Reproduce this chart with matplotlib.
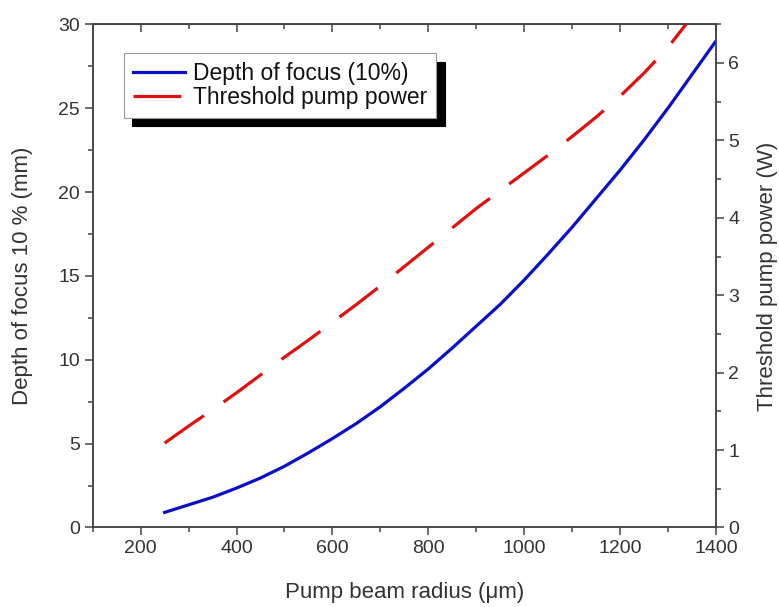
import numpy as np
import matplotlib
matplotlib.use('Agg')
import matplotlib.pyplot as plt
from matplotlib.ticker import MultipleLocator

# values
radius_dof = [250, 300, 350, 400, 450, 500, 550, 600, 650, 700, 750, 800, 850, 900,
              950, 1000, 1050, 1100, 1150, 1200, 1250, 1300, 1350, 1400]
depth_of_focus = [0.9, 1.35, 1.8, 2.35, 2.95, 3.65, 4.45, 5.3, 6.2, 7.2, 8.3, 9.45, 10.7, 12.0,
                  13.3, 14.75, 16.3, 17.9, 19.6, 21.3, 23.1, 25.0, 27.0, 29.0]

radius_thr = [250, 300, 350, 400, 450, 500, 550, 600, 650, 700, 750, 800, 850, 900,
              950, 1000, 1050, 1100, 1150, 1200, 1250, 1300, 1340]
threshold_power = [1.09, 1.31, 1.52, 1.74, 1.97, 2.20, 2.42, 2.65, 2.88, 3.12, 3.37, 3.62, 3.87, 4.12,
                   4.35, 4.58, 4.81, 5.05, 5.30, 5.57, 5.87, 6.20, 6.52]

plt.rcParams['font.family'] = ['Liberation Sans', 'DejaVu Sans']
text_col = '#333333'
spine_col = '#444444'

fig = plt.figure(figsize=(7.79, 6.07), dpi=100)
ax = fig.add_axes([0.119, 0.131, 0.800, 0.829])
ax2 = ax.twinx()

l1, = ax.plot(radius_dof, depth_of_focus, color='#0a10c8', lw=2.3, label='Depth of focus (10%)')
l2, = ax2.plot(radius_thr, threshold_power, color='#e01010', lw=2.3, dashes=(15, 7.5),
               dash_capstyle='butt', label='Threshold pump power')

ax.set_xlim(100, 1400)
ax.set_ylim(0, 30)
ax2.set_ylim(0, 6.5)

ax.set_xticks([200, 400, 600, 800, 1000, 1200, 1400])
ax.xaxis.set_minor_locator(MultipleLocator(100))
ax.yaxis.set_major_locator(MultipleLocator(5))
ax.yaxis.set_minor_locator(MultipleLocator(2.5))
ax2.yaxis.set_major_locator(MultipleLocator(1))
ax2.yaxis.set_minor_locator(MultipleLocator(0.5))

for a in (ax, ax2):
    for s in a.spines.values():
        s.set_color(spine_col)
        s.set_linewidth(1.1)

ax.tick_params(axis='x', which='both', direction='out', top=False, colors=spine_col,
               labelcolor=text_col, labelsize=14, width=1.1, pad=3)
ax.tick_params(axis='y', which='both', direction='out', right=False, colors=spine_col,
               labelcolor=text_col, labelsize=14, width=1.1, pad=3)
ax2.tick_params(axis='y', which='both', direction='out', colors=spine_col,
                labelcolor=text_col, labelsize=14, width=1.1, pad=3)
for a in (ax, ax2):
    a.tick_params(which='major', length=6)
    a.tick_params(which='minor', length=3.6)

# inward ticks on the top edge
top = ax.secondary_xaxis('top')
top.set_xticks([200, 400, 600, 800, 1000, 1200, 1400])
top.xaxis.set_minor_locator(MultipleLocator(100))
top.tick_params(which='both', direction='in', labeltop=False, colors=spine_col, width=1.1)
top.tick_params(which='major', length=6)
top.tick_params(which='minor', length=3.6)
top.spines['top'].set_color(spine_col)

ax.set_xlabel('Pump beam radius (\u03bcm)', fontsize=16, color=text_col)
ax.set_ylabel('Depth of focus 10 % (mm)', fontsize=16, color=text_col)
ax2.set_ylabel('Threshold pump power (W)', fontsize=16, color=text_col)
ax.xaxis.set_label_coords(0.50, -0.129)
ax.yaxis.set_label_coords(-0.113, 0.5)
ax2.yaxis.set_label_coords(1.083, 0.5)
ax.xaxis.label.set_va('center')
ax.yaxis.label.set_va('center')
ax2.yaxis.label.set_va('center')

leg = ax2.legend([l1, l2], [l1.get_label(), l2.get_label()], loc='upper left',
                 bbox_to_anchor=(0.05, 0.942), borderaxespad=0, fontsize=16.5,
                 fancybox=False, framealpha=1, edgecolor='#999999',
                 handlelength=2.3, handletextpad=0.35, borderpad=0.38, labelspacing=0.05,
                 shadow={'ox': 6, 'oy': -6, 'facecolor': 'black', 'edgecolor': 'black', 'alpha': 1})
leg.get_frame().set_linewidth(0.8)
for t in leg.get_texts():
    t.set_color('#111111')

fig.savefig('out.png', dpi=100)
